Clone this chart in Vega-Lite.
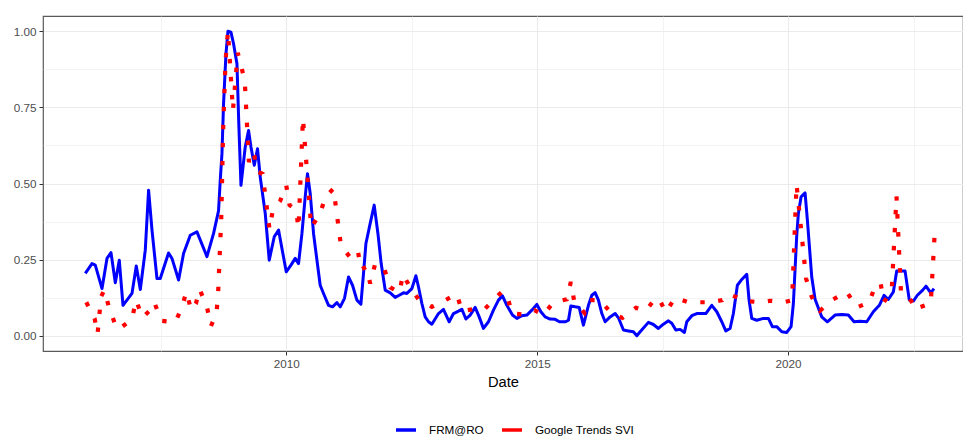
{
  "$schema": "https://vega.github.io/schema/vega-lite/v6.json",
  "width": 920,
  "height": 335,
  "autosize": "none",
  "padding": {"left": 43, "top": 16, "right": 0, "bottom": 88},
  "background": "white",
  "config": {
    "view": {"stroke": "#5a5a5a", "strokeWidth": 1.2},
    "font": "Liberation Sans"
  },
  "datasets": {
    "frm": [
      {"year": 2005.996, "value": 0.205}, {"year": 2006.129, "value": 0.237}, {"year": 2006.195, "value": 0.232},
      {"year": 2006.329, "value": 0.155}, {"year": 2006.428, "value": 0.254}, {"year": 2006.508, "value": 0.273},
      {"year": 2006.594, "value": 0.174}, {"year": 2006.673, "value": 0.248}, {"year": 2006.747, "value": 0.100},
      {"year": 2006.926, "value": 0.139}, {"year": 2007.012, "value": 0.229}, {"year": 2007.092, "value": 0.152},
      {"year": 2007.191, "value": 0.281}, {"year": 2007.257, "value": 0.478}, {"year": 2007.325, "value": 0.347},
      {"year": 2007.424, "value": 0.188}, {"year": 2007.49, "value": 0.188}, {"year": 2007.655, "value": 0.272},
      {"year": 2007.723, "value": 0.254}, {"year": 2007.855, "value": 0.183}, {"year": 2007.954, "value": 0.27},
      {"year": 2008.088, "value": 0.33}, {"year": 2008.221, "value": 0.341}, {"year": 2008.42, "value": 0.26},
      {"year": 2008.552, "value": 0.336}, {"year": 2008.651, "value": 0.41}, {"year": 2008.685, "value": 0.51},
      {"year": 2008.719, "value": 0.598}, {"year": 2008.751, "value": 0.762}, {"year": 2008.799, "value": 0.926},
      {"year": 2008.839, "value": 1.0}, {"year": 2008.898, "value": 0.997}, {"year": 2008.95, "value": 0.959},
      {"year": 2009.018, "value": 0.893}, {"year": 2009.054, "value": 0.7}, {"year": 2009.098, "value": 0.494},
      {"year": 2009.183, "value": 0.62}, {"year": 2009.249, "value": 0.674}, {"year": 2009.297, "value": 0.62},
      {"year": 2009.363, "value": 0.56}, {"year": 2009.428, "value": 0.614}, {"year": 2009.482, "value": 0.521},
      {"year": 2009.582, "value": 0.401}, {"year": 2009.661, "value": 0.248}, {"year": 2009.761, "value": 0.325},
      {"year": 2009.847, "value": 0.347}, {"year": 2010.0, "value": 0.21}, {"year": 2010.094, "value": 0.232},
      {"year": 2010.179, "value": 0.254}, {"year": 2010.245, "value": 0.237}, {"year": 2010.313, "value": 0.336},
      {"year": 2010.378, "value": 0.456}, {"year": 2010.424, "value": 0.532}, {"year": 2010.478, "value": 0.467},
      {"year": 2010.544, "value": 0.336}, {"year": 2010.612, "value": 0.248}, {"year": 2010.677, "value": 0.166},
      {"year": 2010.743, "value": 0.139}, {"year": 2010.843, "value": 0.1}, {"year": 2010.922, "value": 0.095},
      {"year": 2011.01, "value": 0.109}, {"year": 2011.076, "value": 0.095}, {"year": 2011.161, "value": 0.123},
      {"year": 2011.241, "value": 0.193}, {"year": 2011.321, "value": 0.166}, {"year": 2011.408, "value": 0.117},
      {"year": 2011.488, "value": 0.104}, {"year": 2011.54, "value": 0.205}, {"year": 2011.588, "value": 0.303},
      {"year": 2011.673, "value": 0.369}, {"year": 2011.753, "value": 0.429}, {"year": 2011.827, "value": 0.336},
      {"year": 2011.892, "value": 0.237}, {"year": 2011.972, "value": 0.15}, {"year": 2012.072, "value": 0.141},
      {"year": 2012.171, "value": 0.126}, {"year": 2012.251, "value": 0.133}, {"year": 2012.337, "value": 0.141},
      {"year": 2012.404, "value": 0.139}, {"year": 2012.504, "value": 0.155}, {"year": 2012.584, "value": 0.197},
      {"year": 2012.635, "value": 0.161}, {"year": 2012.703, "value": 0.106}, {"year": 2012.769, "value": 0.062},
      {"year": 2012.835, "value": 0.046}, {"year": 2012.902, "value": 0.038}, {"year": 2013.034, "value": 0.073},
      {"year": 2013.133, "value": 0.087}, {"year": 2013.247, "value": 0.046}, {"year": 2013.333, "value": 0.073},
      {"year": 2013.432, "value": 0.081}, {"year": 2013.5, "value": 0.087}, {"year": 2013.58, "value": 0.055},
      {"year": 2013.665, "value": 0.068}, {"year": 2013.765, "value": 0.093}, {"year": 2013.845, "value": 0.062},
      {"year": 2013.93, "value": 0.024}, {"year": 2014.03, "value": 0.046}, {"year": 2014.129, "value": 0.084},
      {"year": 2014.229, "value": 0.117}, {"year": 2014.309, "value": 0.131}, {"year": 2014.396, "value": 0.1},
      {"year": 2014.508, "value": 0.068}, {"year": 2014.596, "value": 0.057}, {"year": 2014.695, "value": 0.066},
      {"year": 2014.795, "value": 0.068}, {"year": 2014.894, "value": 0.084}, {"year": 2014.994, "value": 0.103},
      {"year": 2015.074, "value": 0.079}, {"year": 2015.159, "value": 0.062}, {"year": 2015.259, "value": 0.055},
      {"year": 2015.359, "value": 0.054}, {"year": 2015.444, "value": 0.046}, {"year": 2015.558, "value": 0.046},
      {"year": 2015.624, "value": 0.051}, {"year": 2015.671, "value": 0.098}, {"year": 2015.757, "value": 0.095},
      {"year": 2015.837, "value": 0.093}, {"year": 2015.922, "value": 0.035}, {"year": 2016.022, "value": 0.1},
      {"year": 2016.09, "value": 0.133}, {"year": 2016.155, "value": 0.142}, {"year": 2016.221, "value": 0.117},
      {"year": 2016.289, "value": 0.073}, {"year": 2016.355, "value": 0.046}, {"year": 2016.454, "value": 0.062},
      {"year": 2016.554, "value": 0.073}, {"year": 2016.62, "value": 0.059}, {"year": 2016.719, "value": 0.019},
      {"year": 2016.819, "value": 0.016}, {"year": 2016.918, "value": 0.013}, {"year": 2016.986, "value": 0.0},
      {"year": 2017.052, "value": 0.013}, {"year": 2017.217, "value": 0.044}, {"year": 2017.317, "value": 0.037},
      {"year": 2017.416, "value": 0.024}, {"year": 2017.516, "value": 0.038}, {"year": 2017.616, "value": 0.049},
      {"year": 2017.683, "value": 0.041}, {"year": 2017.763, "value": 0.019}, {"year": 2017.849, "value": 0.021},
      {"year": 2017.934, "value": 0.011}, {"year": 2017.982, "value": 0.046}, {"year": 2018.082, "value": 0.066},
      {"year": 2018.181, "value": 0.073}, {"year": 2018.361, "value": 0.073}, {"year": 2018.48, "value": 0.1},
      {"year": 2018.58, "value": 0.079}, {"year": 2018.679, "value": 0.046}, {"year": 2018.759, "value": 0.016},
      {"year": 2018.845, "value": 0.024}, {"year": 2018.91, "value": 0.073}, {"year": 2018.99, "value": 0.166},
      {"year": 2019.078, "value": 0.185}, {"year": 2019.177, "value": 0.202}, {"year": 2019.223, "value": 0.117},
      {"year": 2019.277, "value": 0.057}, {"year": 2019.376, "value": 0.051}, {"year": 2019.508, "value": 0.057},
      {"year": 2019.608, "value": 0.057}, {"year": 2019.687, "value": 0.03}, {"year": 2019.775, "value": 0.03},
      {"year": 2019.875, "value": 0.013}, {"year": 2019.974, "value": 0.011}, {"year": 2020.06, "value": 0.03},
      {"year": 2020.106, "value": 0.106}, {"year": 2020.173, "value": 0.33}, {"year": 2020.205, "value": 0.401},
      {"year": 2020.259, "value": 0.456}, {"year": 2020.339, "value": 0.469}, {"year": 2020.385, "value": 0.38},
      {"year": 2020.472, "value": 0.193}, {"year": 2020.538, "value": 0.12}, {"year": 2020.671, "value": 0.062},
      {"year": 2020.783, "value": 0.046}, {"year": 2020.936, "value": 0.068}, {"year": 2021.07, "value": 0.07},
      {"year": 2021.201, "value": 0.068}, {"year": 2021.315, "value": 0.046}, {"year": 2021.434, "value": 0.048},
      {"year": 2021.568, "value": 0.046}, {"year": 2021.699, "value": 0.079}, {"year": 2021.819, "value": 0.1},
      {"year": 2021.912, "value": 0.133}, {"year": 2021.998, "value": 0.119}, {"year": 2022.098, "value": 0.144},
      {"year": 2022.165, "value": 0.213}, {"year": 2022.331, "value": 0.213}, {"year": 2022.416, "value": 0.117},
      {"year": 2022.496, "value": 0.114}, {"year": 2022.576, "value": 0.133}, {"year": 2022.683, "value": 0.15},
      {"year": 2022.749, "value": 0.163}, {"year": 2022.843, "value": 0.141}, {"year": 2022.908, "value": 0.155}
    ],
    "svi": [
      {"year": 2006.016, "value": 0.11}, {"year": 2006.181, "value": 0.057}, {"year": 2006.241, "value": 0.006},
      {"year": 2006.275, "value": 0.068}, {"year": 2006.315, "value": 0.13}, {"year": 2006.375, "value": 0.15},
      {"year": 2006.474, "value": 0.09}, {"year": 2006.608, "value": 0.03}, {"year": 2006.659, "value": 0.021},
      {"year": 2006.926, "value": 0.054}, {"year": 2007.006, "value": 0.117}, {"year": 2007.137, "value": 0.06},
      {"year": 2007.277, "value": 0.082}, {"year": 2007.371, "value": 0.11}, {"year": 2007.51, "value": 0.049},
      {"year": 2007.789, "value": 0.045}, {"year": 2007.922, "value": 0.093}, {"year": 2008.008, "value": 0.144},
      {"year": 2008.108, "value": 0.084}, {"year": 2008.201, "value": 0.106}, {"year": 2008.273, "value": 0.153},
      {"year": 2008.42, "value": 0.095}, {"year": 2008.5, "value": 0.032}, {"year": 2008.612, "value": 0.075},
      {"year": 2008.645, "value": 0.15}, {"year": 2008.705, "value": 0.386}, {"year": 2008.745, "value": 0.693},
      {"year": 2008.791, "value": 0.904}, {"year": 2008.839, "value": 1.0}, {"year": 2008.938, "value": 0.74},
      {"year": 2009.034, "value": 0.929}, {"year": 2009.173, "value": 0.838}, {"year": 2009.257, "value": 0.57},
      {"year": 2009.317, "value": 0.603}, {"year": 2009.363, "value": 0.592}, {"year": 2009.428, "value": 0.538},
      {"year": 2009.528, "value": 0.532}, {"year": 2009.667, "value": 0.35}, {"year": 2009.727, "value": 0.407},
      {"year": 2009.88, "value": 0.443}, {"year": 2010.0, "value": 0.494}, {"year": 2010.066, "value": 0.429},
      {"year": 2010.193, "value": 0.414}, {"year": 2010.245, "value": 0.353}, {"year": 2010.333, "value": 0.714},
      {"year": 2010.498, "value": 0.356}, {"year": 2010.677, "value": 0.401}, {"year": 2010.777, "value": 0.456},
      {"year": 2010.942, "value": 0.483}, {"year": 2011.09, "value": 0.297}, {"year": 2011.275, "value": 0.257},
      {"year": 2011.428, "value": 0.279}, {"year": 2011.488, "value": 0.218}, {"year": 2011.594, "value": 0.226},
      {"year": 2011.673, "value": 0.172}, {"year": 2011.773, "value": 0.237}, {"year": 2011.952, "value": 0.221},
      {"year": 2012.072, "value": 0.159}, {"year": 2012.257, "value": 0.142}, {"year": 2012.325, "value": 0.202},
      {"year": 2012.456, "value": 0.163}, {"year": 2012.635, "value": 0.12}, {"year": 2012.902, "value": 0.095},
      {"year": 2013.068, "value": 0.108}, {"year": 2013.4, "value": 0.137}, {"year": 2013.5, "value": 0.081},
      {"year": 2013.711, "value": 0.087}, {"year": 2013.95, "value": 0.087}, {"year": 2014.183, "value": 0.126},
      {"year": 2014.297, "value": 0.144}, {"year": 2014.396, "value": 0.137}, {"year": 2014.496, "value": 0.073},
      {"year": 2014.727, "value": 0.07}, {"year": 2014.946, "value": 0.084}, {"year": 2015.125, "value": 0.068},
      {"year": 2015.313, "value": 0.108}, {"year": 2015.592, "value": 0.12}, {"year": 2015.671, "value": 0.177},
      {"year": 2015.737, "value": 0.115}, {"year": 2015.942, "value": 0.075}, {"year": 2016.036, "value": 0.117},
      {"year": 2016.255, "value": 0.117}, {"year": 2016.474, "value": 0.075}, {"year": 2016.699, "value": 0.059},
      {"year": 2016.966, "value": 0.092}, {"year": 2017.165, "value": 0.082}, {"year": 2017.365, "value": 0.125},
      {"year": 2017.464, "value": 0.11}, {"year": 2017.564, "value": 0.077}, {"year": 2017.749, "value": 0.125},
      {"year": 2018.014, "value": 0.11}, {"year": 2018.193, "value": 0.11}, {"year": 2018.446, "value": 0.11},
      {"year": 2018.691, "value": 0.117}, {"year": 2018.799, "value": 0.137}, {"year": 2018.958, "value": 0.128},
      {"year": 2019.124, "value": 0.115}, {"year": 2019.442, "value": 0.11}, {"year": 2019.655, "value": 0.115},
      {"year": 2019.94, "value": 0.111}, {"year": 2020.08, "value": 0.117}, {"year": 2020.169, "value": 0.497},
      {"year": 2020.359, "value": 0.188}, {"year": 2020.472, "value": 0.128}, {"year": 2020.637, "value": 0.082},
      {"year": 2020.871, "value": 0.117}, {"year": 2021.169, "value": 0.144}, {"year": 2021.369, "value": 0.093},
      {"year": 2021.62, "value": 0.11}, {"year": 2021.747, "value": 0.17}, {"year": 2021.847, "value": 0.17},
      {"year": 2021.912, "value": 0.111}, {"year": 2022.066, "value": 0.15}, {"year": 2022.161, "value": 0.458},
      {"year": 2022.251, "value": 0.14}, {"year": 2022.396, "value": 0.128}, {"year": 2022.576, "value": 0.084},
      {"year": 2022.616, "value": 0.093}, {"year": 2022.843, "value": 0.106}, {"year": 2022.928, "value": 0.354}
    ]
  },
  "encoding": {
    "x": {
      "field": "year", "type": "quantitative",
      "scale": {"domain": [2005.153, 2023.486], "nice": false, "zero": false},
      "axis": {
        "title": "Date",
        "values": [2007.5, 2010, 2012.5, 2015, 2017.5, 2020, 2022.5],
        "labelExpr": "datum.value % 5 === 0 ? format(datum.value, 'd') : ''",
        "domain": false,
        "grid": true,
        "gridColor": "#EBEBEB",
        "gridWidth": {"condition": {"test": "datum.value % 5 === 0", "value": 1.1}, "value": 0.6},
        "tickColor": "#333333",
        "tickSize": 4,
        "tickWidth": 1,
        "tickOpacity": {"condition": {"test": "datum.value % 5 === 0", "value": 1}, "value": 0},
        "labelColor": "#4D4D4D",
        "labelFontSize": 11.7,
        "labelFont": "Liberation Sans",
        "labelPadding": 3,
        "labelFlush": false,
        "titleFont": "Liberation Sans",
        "titleFontSize": 14.7,
        "titleFontWeight": "normal",
        "titleColor": "#000000",
        "titlePadding": 5
      }
    },
    "y": {
      "field": "value", "type": "quantitative",
      "scale": {"domain": [-0.05, 1.05], "nice": false, "zero": false},
      "axis": {
        "title": null,
        "values": [0, 0.125, 0.25, 0.375, 0.5, 0.625, 0.75, 0.875, 1],
        "labelExpr": "datum.value % 0.25 === 0 ? format(datum.value, '.2f') : ''",
        "domain": false,
        "grid": true,
        "gridColor": "#EBEBEB",
        "gridWidth": {"condition": {"test": "datum.value % 0.25 === 0", "value": 1.1}, "value": 0.6},
        "tickColor": "#333333",
        "tickSize": 4,
        "tickWidth": 1,
        "tickOpacity": {"condition": {"test": "datum.value % 0.25 === 0", "value": 1}, "value": 0},
        "labelColor": "#4D4D4D",
        "labelFontSize": 11.7,
        "labelFont": "Liberation Sans",
        "labelPadding": 3
      }
    },
    "color": {
      "field": "series", "type": "nominal",
      "scale": {"domain": ["FRM@RO", "Google Trends SVI"], "range": ["#0000FF", "#FF0000"]},
      "legend": {
        "title": null,
        "orient": "none",
        "direction": "horizontal",
        "legendX": 351,
        "legendY": 402,
        "symbolType": "stroke",
        "symbolSize": 400,
        "symbolStrokeWidth": 3.5,
        "labelFontSize": 11.7,
        "labelFont": "Liberation Sans",
        "labelColor": "#000000",
        "labelOffset": 11,
        "columnPadding": 11
      }
    }
  },
  "layer": [
    {
      "data": {"name": "frm"},
      "transform": [{"calculate": "'FRM@RO'", "as": "series"}],
      "mark": {"type": "line", "strokeWidth": 3, "strokeJoin": "round", "clip": true}
    },
    {
      "data": {"name": "svi"},
      "transform": [{"calculate": "'Google Trends SVI'", "as": "series"}],
      "mark": {"type": "line", "strokeWidth": 4.2, "strokeDash": [4.4, 13.6], "strokeCap": "butt", "clip": true}
    }
  ]
}
